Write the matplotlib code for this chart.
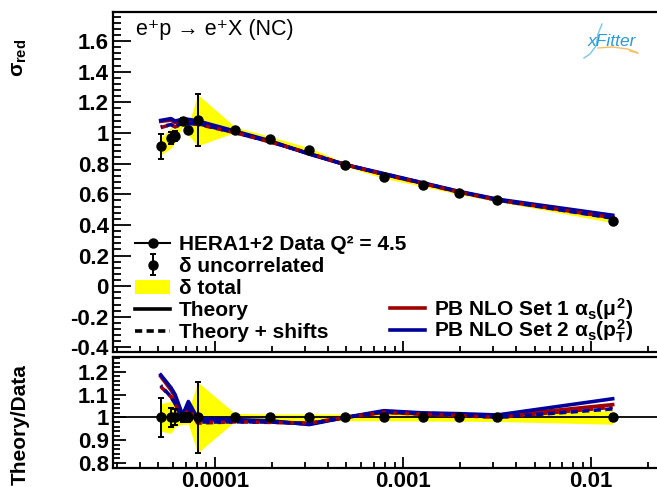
import numpy as np
import matplotlib.pyplot as plt
from matplotlib.lines import Line2D
from matplotlib.patches import Patch
from matplotlib.ticker import MultipleLocator, LogLocator, NullFormatter, FixedLocator, FixedFormatter

plt.rcParams['font.family'] = ['Liberation Sans', 'DejaVu Sans']
plt.rcParams['mathtext.fontset'] = 'custom'
plt.rcParams['mathtext.rm'] = 'Liberation Sans:bold'
plt.rcParams['mathtext.it'] = 'Liberation Sans:bold'
plt.rcParams['mathtext.bf'] = 'Liberation Sans:bold'
plt.rcParams['axes.unicode_minus'] = False

# HERA1+2 e+p NC, Q2 = 4.5
x = [5.15e-5, 5.84e-5, 6.14e-5, 6.73e-5, 7.22e-5, 8.09e-5, 1.28e-4, 1.96e-4,
     3.17e-4, 4.94e-4, 7.9e-4, 1.28e-3, 1.98e-3, 3.17e-3, 1.3e-2]
sigma = [0.912, 0.968, 0.980, 1.079, 1.018, 1.084, 1.022, 0.963,
         0.890, 0.793, 0.714, 0.661, 0.609, 0.562, 0.428]
# relative uncertainties
unc_rel = [0.087, 0.04, 0.035, 0.02, 0.02, 0.155, 0.006, 0.006,
           0.006, 0.008, 0.012, 0.012, 0.012, 0.008, 0.015]
tot_rel = [0.06, 0.07, 0.04, 0.03, 0.03, 0.155, 0.017, 0.015,
           0.015, 0.015, 0.015, 0.016, 0.017, 0.018, 0.03]

# theory predictions
set1 = [1.076, 1.084, 1.068, 1.079, 1.079, 1.073, 1.007, 0.944,
        0.865, 0.793, 0.730, 0.671, 0.615, 0.565, 0.452]
set2 = [1.082, 1.094, 1.078, 1.090, 1.089, 1.079, 1.012, 0.949,
        0.862, 0.793, 0.735, 0.674, 0.619, 0.568, 0.463]
set1_shift = [1.035, 1.055, 1.039, 1.063, 1.059, 1.057, 1.002, 0.942,
              0.868, 0.793, 0.730, 0.670, 0.614, 0.562, 0.447]
set2_shift = [1.040, 1.055, 1.039, 1.068, 1.059, 1.062, 1.002, 0.944,
              0.865, 0.793, 0.732, 0.673, 0.617, 0.562, 0.444]

x = np.array(x)
sigma = np.array(sigma)
unc_rel = np.array(unc_rel)
tot_rel = np.array(tot_rel)

red = '#a00000'
blue = '#00009a'
yellow = '#ffff00'
dash = (0, (2.0, 1.2))
dash2 = (1.6, (2.0, 1.2))

W, H = 657, 487
fig = plt.figure(figsize=(W / 100, H / 100), dpi=100)
left = 113 / W
width = (681 - 113) / W
ax1 = fig.add_axes([left, 1 - 352 / H, width, 340 / H])
ax2 = fig.add_axes([left, 1 - 468 / H, width, 111 / H])

# --- top panel
ax1.fill_between(x, sigma * (1 - tot_rel), sigma * (1 + tot_rel), color=yellow, lw=0, zorder=1)
ax1.plot(x, set1, color=red, lw=2.6, zorder=2)
ax1.plot(x, set2, color=blue, lw=2.6, zorder=2)
ax1.plot(x, set1_shift, color=red, lw=2.6, ls=dash, zorder=3)
ax1.plot(x, set2_shift, color=blue, lw=2.6, ls=dash2, zorder=3)
eb = ax1.errorbar(x, sigma, yerr=sigma * unc_rel, fmt='o', color='k', ms=6.5,
                  elinewidth=1.4, capsize=2.5, capthick=1.4, zorder=4)

# --- ratio panel
ax2.fill_between(x, 1 - tot_rel, 1 + tot_rel, color=yellow, lw=0, zorder=1)
ax2.axhline(1, color='k', lw=1.3, zorder=2)
ax2.plot(x, np.array(set1) / sigma, color=red, lw=2.6, zorder=3)
ax2.plot(x, np.array(set2) / sigma, color=blue, lw=2.6, zorder=3)
ax2.plot(x, np.array(set1_shift) / sigma, color=red, lw=2.6, ls=dash, zorder=3)
ax2.plot(x, np.array(set2_shift) / sigma, color=blue, lw=2.6, ls=dash2, zorder=3)
ax2.errorbar(x, np.ones_like(x), yerr=unc_rel, fmt='o', color='k', ms=6.5,
             elinewidth=1.4, capsize=2.5, capthick=1.4, zorder=4)

for ax in (ax1, ax2):
    ax.set_xscale('log')
    ax.set_xlim(2.87e-5, 0.03)
    for s in ax.spines.values():
        s.set_linewidth(1.6)
    ax.xaxis.set_major_locator(FixedLocator([1e-4, 1e-3, 1e-2]))
    ax.xaxis.set_minor_locator(LogLocator(base=10, subs=np.arange(2, 10)))
    ax.xaxis.set_minor_formatter(NullFormatter())
    ax.tick_params(axis='x', which='major', direction='in', length=8, width=1.3, top=False)
    ax.tick_params(axis='x', which='minor', direction='in', length=4, width=1.3, top=False)

ax1.set_ylim(-0.43, 1.79)
ax1.set_yticks([-0.4, -0.2, 0, 0.2, 0.4, 0.6, 0.8, 1, 1.2, 1.4, 1.6])
ax1.set_yticklabels(['-0.4', '-0.2', '0', '0.2', '0.4', '0.6', '0.8', '1', '1.2', '1.4', '1.6'])
ax1.yaxis.set_minor_locator(MultipleLocator(0.04))
ax1.tick_params(axis='y', which='major', direction='in', length=13, width=1.3, pad=3, labelsize=16)
ax1.tick_params(axis='y', which='minor', direction='in', length=6, width=1.3)
ax1.tick_params(axis='x', labelbottom=False)
for lab in ax1.get_yticklabels():
    lab.set_fontweight('bold')

ax2.set_ylim(0.778, 1.265)
ax2.set_yticks([0.8, 0.9, 1.0, 1.1, 1.2])
ax2.set_yticklabels(['0.8', '0.9', '1', '1.1', '1.2'])
ax2.yaxis.set_minor_locator(MultipleLocator(0.02))
ax2.tick_params(axis='y', which='major', direction='in', length=9, width=1.3, pad=3, labelsize=16)
ax2.tick_params(axis='y', which='minor', direction='in', length=5, width=1.3)
ax2.xaxis.set_major_formatter(FixedFormatter(['0.0001', '0.001', '0.01']))
ax2.tick_params(axis='x', which='major', labelsize=16, pad=2)
for lab in ax2.get_yticklabels() + ax2.get_xticklabels():
    lab.set_fontweight('bold')

# axis titles
fig.text(20 / W, 1 - 58 / H, r'$\sigma_{\rm red}$', rotation=90, ha='center', va='center', fontsize=15)
fig.text(20 / W, 1 - 425 / H, 'Theory/Data', rotation=90, ha='center', va='center',
         fontsize=15, fontweight='bold')

# process label
ax1.text(0.04, 0.95, 'e⁺p → e⁺X (NC)', transform=ax1.transAxes, fontsize=15.5, va='center', ha='left')

# xFitter logo
fig.text(612 / W, 1 - 41 / H, 'xFitter', color='#2a9ad8', fontsize=12.5, style='italic',
         ha='center', va='center')
fig.add_artist(Line2D([602 / W, 598 / W, 596 / W, 590 / W, 584 / W],
                      [1 - 24 / H, 1 - 34 / H, 1 - 46 / H, 1 - 54 / H, 1 - 58 / H],
                      color='#7cc4ee', lw=1.0))
fig.add_artist(Line2D([598 / W, 612 / W, 628 / W, 638 / W, 630 / W],
                      [1 - 48 / H, 1 - 47 / H, 1 - 49 / H, 1 - 53 / H, 1 - 51 / H],
                      color='#f5c060', lw=1.0))

# legends
lkw = dict(frameon=False, borderpad=0, borderaxespad=0,
           handlelength=1.7, handletextpad=0.4, prop={'weight': 'bold', 'size': 15})
h_data = Line2D([], [], color='k', marker='o', ms=6.5, lw=1.5)
h_tot = Patch(facecolor=yellow, edgecolor='none')
h_th = Line2D([], [], color='k', lw=2.6)
h_ths = Line2D([], [], color='k', lw=2.6, ls=dash)
fig.legend([h_data, eb, h_tot, h_th, h_ths],
           ['HERA1+2 Data Q² = 4.5', 'δ uncorrelated', 'δ total', 'Theory', 'Theory + shifts'],
           loc='upper left', bbox_to_anchor=(135 / W, 1 - 235 / H), labelspacing=0.15, **lkw)
h_s1 = Line2D([], [], color=red, lw=2.6)
h_s2 = Line2D([], [], color=blue, lw=2.6)
leg_s1 = fig.legend([h_s1], [r'PB NLO Set 1 $\alpha_{s}(\mu^{2})$'],
                    loc='center left', bbox_to_anchor=(390 / W, 1 - 309 / H), **lkw)
leg_s2 = fig.legend([h_s2], [r'PB NLO Set 2 $\alpha_{s}(p_{T}^{2})$'],
                    loc='center left', bbox_to_anchor=(390 / W, 1 - 331 / H), **lkw)

fig.savefig('out.png', dpi=100)
